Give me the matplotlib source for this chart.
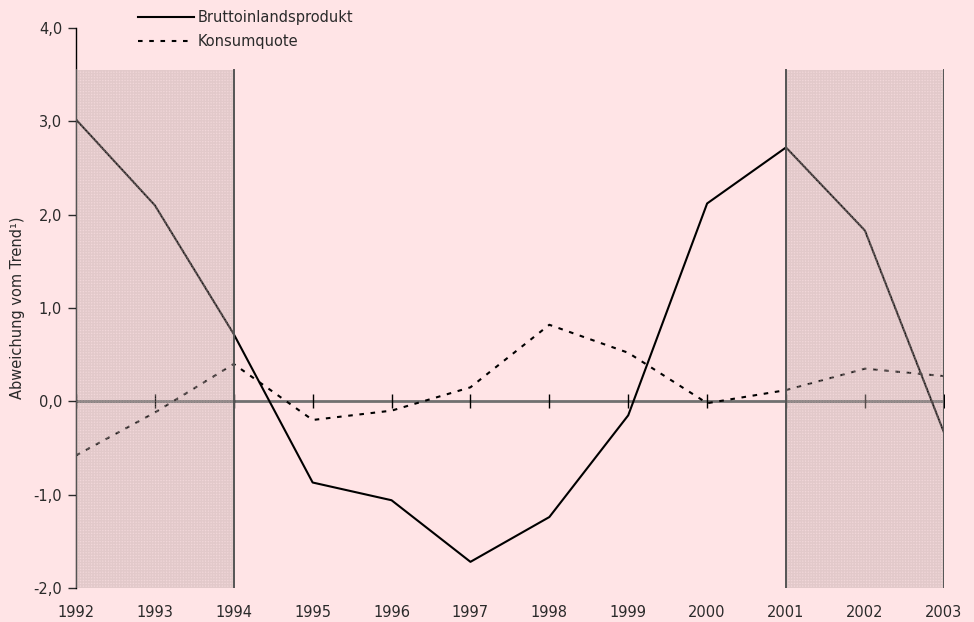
import matplotlib.pyplot as plt

# Daten
years = [1992, 1993, 1994, 1995, 1996, 1997, 1998, 1999, 2000, 2001, 2002, 2003]
bip = [3.02, 2.10, 0.72, -0.87, -1.06, -1.72, -1.24, -0.15, 2.12, 2.72, 1.83, -0.33]
konsum = [-0.58, -0.12, 0.40, -0.20, -0.10, 0.15, 0.82, 0.52, -0.02, 0.12, 0.35, 0.27]
ytick_labels = ['-2,0', '-1,0', '0,0', '1,0', '2,0', '3,0', '4,0']
shade_periods = [(1992, 1994), (2001, 2003)]
shade_top = 3.55

bg = '#ffe4e6'
plt.rcParams['font.family'] = ['DejaVu Sans']

fig = plt.figure(figsize=(9.74, 6.22), dpi=100, facecolor=bg)
ax = fig.add_axes([0.078, 0.0547, 0.891, 0.9003])
ax.set_facecolor(bg)

ax.plot(years, bip, color='black', lw=1.5, zorder=3, label='Bruttoinlandsprodukt')
ax.plot(years, konsum, color='black', lw=1.5, ls=(0, (2.2, 3.2)), zorder=3, label='Konsumquote')

# schattierte Bereiche (über den Linien, halbtransparent)
for x0, x1 in shade_periods:
    ax.fill_between([x0, x1], -2.0, shade_top, color='#a89898', alpha=0.16,
                    lw=0, zorder=4)
    ax.fill_between([x0, x1], -2.0, shade_top, facecolor='none', edgecolor='#c8b0b0',
                    hatch='++++++', lw=0, alpha=0.35, zorder=4)
    for xv in (x0, x1):
        ax.plot([xv, xv], [-2.0, shade_top], color='#555555', lw=1.4, zorder=5)

# Nulllinie mit Jahresmarken
ax.axhline(0, color='#707070', lw=2, zorder=2)
ax.plot(years, [0] * len(years), ls='none', marker='|', ms=10, mew=1, color='black', zorder=2)

ax.set_xlim(1992, 2003)
ax.set_ylim(-2.0, 4.0)
ax.set_xticks(years)
ax.set_xticklabels([str(y) for y in years])
ax.set_yticks([-2, -1, 0, 1, 2, 3, 4])
ax.set_yticklabels(ytick_labels)
ax.tick_params(axis='x', length=0, pad=12, labelsize=10.5, colors='#2a2a2a')
ax.tick_params(axis='y', length=6, width=1, direction='out', labelsize=10.5,
               colors='#2a2a2a', pad=4)

for s in ['top', 'right', 'bottom']:
    ax.spines[s].set_visible(False)
ax.spines['left'].set_color('black')
ax.spines['left'].set_linewidth(1)

ax.set_ylabel('Abweichung vom Trend¹)', fontsize=10.5, color='#2a2a2a', labelpad=6)

leg = ax.legend(loc='upper left', bbox_to_anchor=(0.065, 1.042), frameon=False,
                fontsize=10.5, handlelength=3.8, handletextpad=0.3,
                labelspacing=0.6, borderaxespad=0)
for t in leg.get_texts():
    t.set_color('#2a2a2a')

fig.savefig('out.png', dpi=100, facecolor=bg)
